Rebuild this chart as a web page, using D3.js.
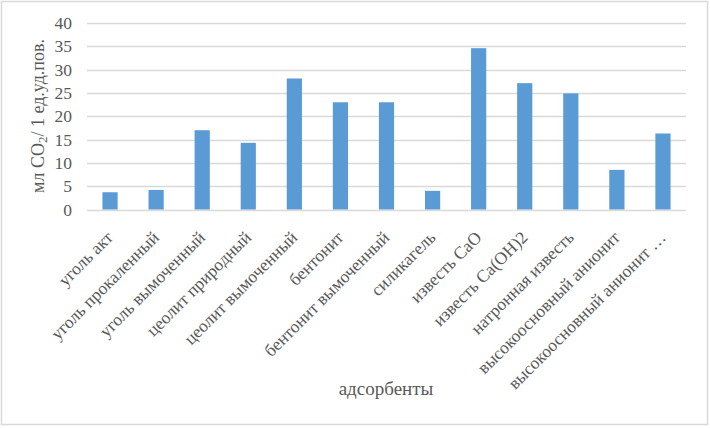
<!DOCTYPE html>
<html><head><meta charset="utf-8">
<script src="https://cdn.jsdelivr.net/npm/d3@7/dist/d3.min.js"></script>
<style>body{margin:0;background:#fff}svg{display:block}</style>
</head><body>
<svg id="c" width="710" height="428"></svg>
<script>
const categories = ["уголь акт","уголь прокаленный","уголь вымоченный","цеолит природный","цеолит вымоченный","бентонит","бентонит вымоченный","силикагель","известь CaO","известь Ca(OH)2","натронная известь","высокоосновный анионит","высокоосновный анионит …"];
const values = [3.7, 4.2, 17.0, 14.3, 28.1, 23.0, 23.0, 4.0, 34.6, 27.1, 24.9, 8.5, 16.3];
const yTicks = [0,5,10,15,20,25,30,35,40];

const svg = d3.select("#c");
const font = "'Liberation Serif','Times New Roman',serif";
const grey = "#595959";

svg.append("rect").attr("x",1.5).attr("y",1.5).attr("width",706).attr("height",423)
  .attr("fill","#fff").attr("stroke","#d9d9d9").attr("stroke-width",1.5);

const x = d3.scaleBand().domain(categories).range([87,686]).paddingInner(0.67).paddingOuter(0.335);
const y = d3.scaleLinear().domain([0,40]).range([209.5,23]);

const grid = svg.append("g");
grid.selectAll("line").data(yTicks).join("line")
  .attr("x1",87).attr("x2",686)
  .attr("y1",d=>Math.round(y(d))+0.5).attr("y2",d=>Math.round(y(d))+0.5)
  .attr("stroke","#d9d9d9").attr("stroke-width",1.3);

const yAxis = svg.append("g").attr("transform","translate(87,0)")
  .call(d3.axisLeft(y).tickValues(yTicks).tickSize(0).tickPadding(15));
yAxis.select(".domain").remove();
yAxis.attr("font-family",null).attr("font-size",null);
yAxis.selectAll("text").style("font-family",font).style("font-size","17.5px").attr("fill",grey);

svg.append("g").selectAll("rect").data(values).join("rect")
  .attr("x",(d,i)=>x(categories[i])).attr("width",x.bandwidth())
  .attr("y",d=>y(d)).attr("height",d=>y(0)-y(d))
  .attr("fill","#5b9bd5");

const xAxis = svg.append("g").attr("transform","translate(0,209.5)")
  .call(d3.axisBottom(x).tickSize(0).tickPadding(0));
xAxis.select(".domain").remove();
xAxis.attr("font-family",null).attr("font-size",null);
xAxis.selectAll("text")
  .style("font-family",font).style("font-size","17.5px").attr("fill",grey)
  .attr("text-anchor","end").attr("dy",0).attr("y",0)
  .attr("transform","translate(4,29) rotate(-45)");

svg.append("text").attr("x",386).attr("y",395).attr("text-anchor","middle")
  .style("font-family",font).style("font-size","19px").attr("fill",grey).text("адсорбенты");

const yt = svg.append("text").attr("transform","translate(44,116) rotate(-90)")
  .attr("text-anchor","middle").style("font-family",font).style("font-size","18px").attr("fill",grey);
yt.append("tspan").text("мл CO");
yt.append("tspan").style("font-size","13px").attr("dy",3).text("2");
yt.append("tspan").attr("dy",-3).text("/ 1 ед.уд.пов.");
</script>
</body></html>
